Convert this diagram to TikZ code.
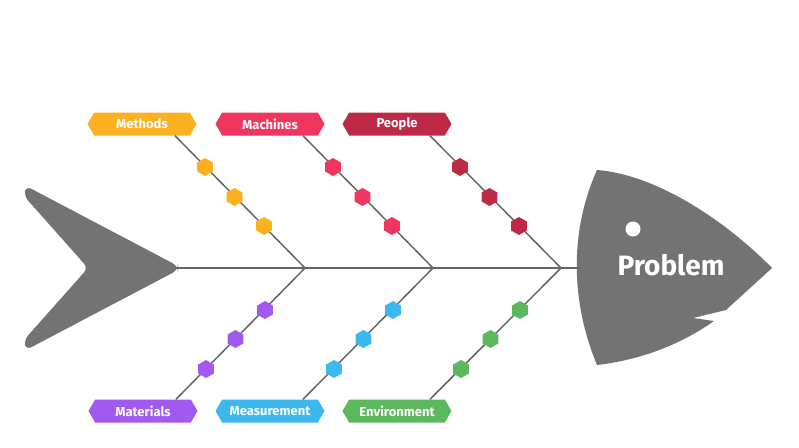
\documentclass[tikz,border=0pt]{standalone}
\usepackage{fontspec}
\setmainfont{Fira Sans}
\usetikzlibrary{shapes.geometric,shapes.symbols}
\definecolor{cA}{HTML}{FBB120}\definecolor{cB}{HTML}{F0365E}\definecolor{cC}{HTML}{BE2A45}
\definecolor{cD}{HTML}{A259F0}\definecolor{cE}{HTML}{3BB8EE}\definecolor{cF}{HTML}{5CB85C}
\definecolor{fish}{HTML}{737373}\definecolor{bone}{HTML}{666666}
\begin{document}
\begin{tikzpicture}[x=1pt,y=-1pt,
 lab/.style={signal,signal to=east and west,signal pointer angle=120,fill=#1,text=white,font=\bfseries\fontsize{13}{14}\selectfont,minimum width=109pt,minimum height=23pt,inner sep=0pt},
 dot/.style={regular polygon,regular polygon sides=6,shape border rotate=30,fill=#1,minimum size=18pt,inner sep=0pt},
 bn/.style={bone,line width=1.5pt}]
\useasboundingbox (0,0) rectangle (799,447);
% tail
\fill[fish,rounded corners=6pt] (26,186) -- (178,266) -- (178,270) -- (26,350) -- (24,340) -- (88,268) -- (24,196) -- cycle;
% head
\fill[fish] (597,170) .. controls (660,175) and (730,225) .. (772,268) -- (726,310) -- (693,318) -- (714,321) .. controls (680,345) and (640,360) .. (597,365) .. controls (570,300) and (570,230) .. (597,170) -- cycle;
\fill[white] (633,229) circle (7.5);
\node[text=white,font=\bfseries\fontsize{28}{32}\selectfont] (prob) at (671,265) {Problem};
\coordinate (s0) at (175,268);\coordinate (s4) at (580,268);
\coordinate (j1) at (305,268);\coordinate (j2) at (433,268);\coordinate (j3) at (561,268);
\draw[bn] (s0) -- (s4);
\foreach \n/\c/\t/\x/\j in {m1/cA/Methods/142/j1,m2/cB/Machines/270/j2,m3/cC/People/397/j3}{
 \node[lab=\c] (\n) at (\x,124) {\t};
 \draw[bn] ([xshift=33pt]\n.south) -- (\j);
}
\foreach \n/\c/\t/\x/\j in {l1/cD/Materials/143/j1,l2/cE/Measurement/270/j2,l3/cF/Environment/397/j3}{
 \node[lab=\c] (\n) at (\x,411) {\t};
 \draw[bn] ([xshift=33pt]\n.north) -- (\j);
}
\foreach \c/\x in {cA/205,cB/333,cC/460}{
 \node[dot=\c] (u\x a) at (\x,167) {};
 \node[dot=\c] (u\x b) at (\x+29.5,197) {};
 \node[dot=\c] (u\x c) at (\x+59,226) {};
}
\foreach \c/\x in {cD/265,cE/393,cF/520}{
 \node[dot=\c] (d\x a) at (\x,310) {};
 \node[dot=\c] (d\x b) at (\x-29.5,339) {};
 \node[dot=\c] (d\x c) at (\x-59,369) {};
}
\end{tikzpicture}
\end{document}
